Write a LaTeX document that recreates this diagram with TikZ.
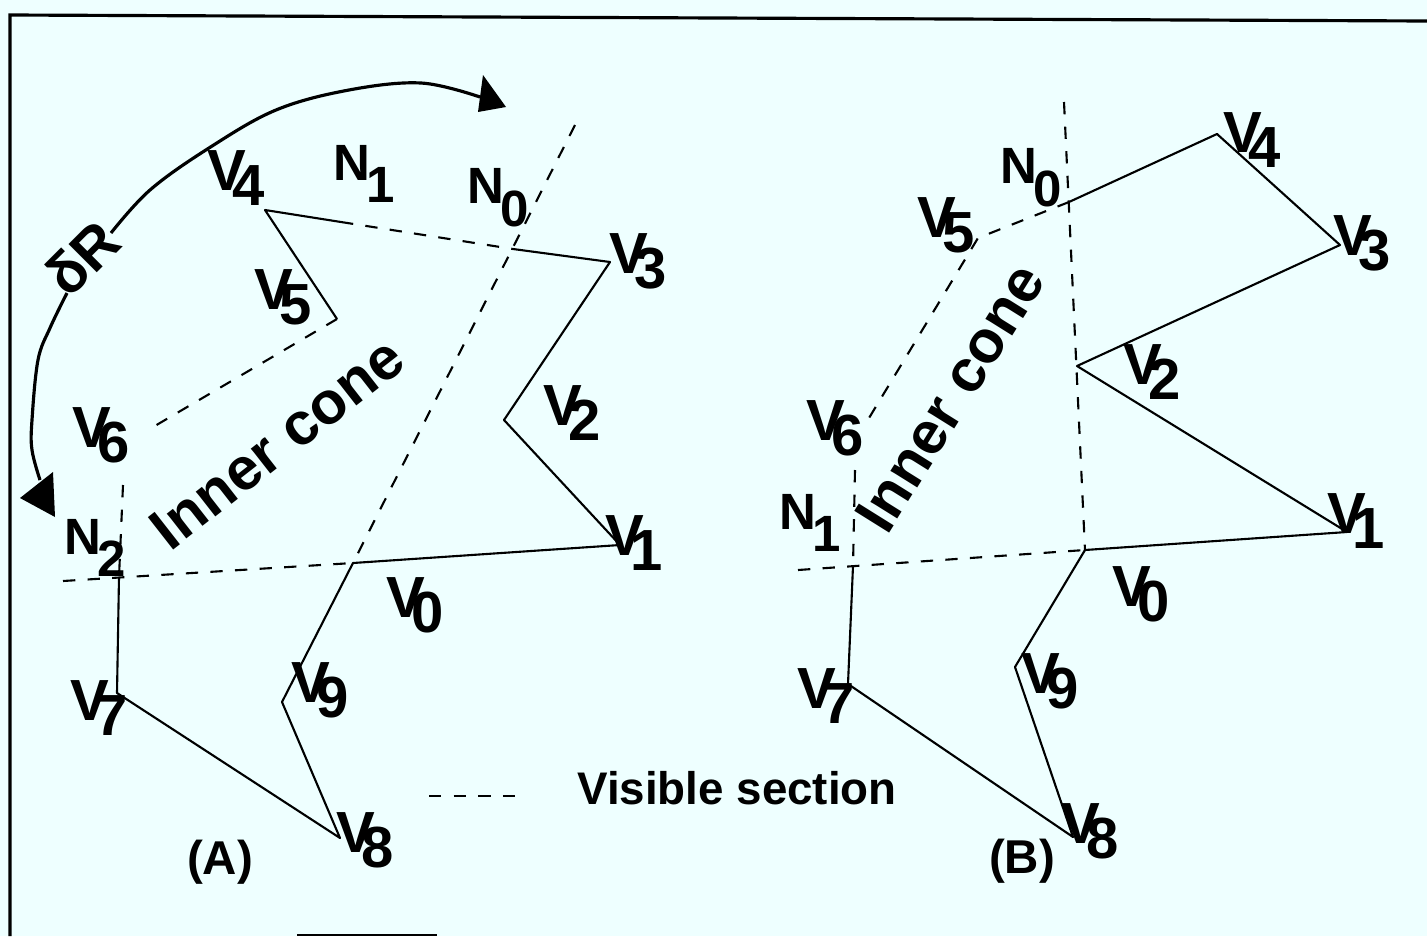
\documentclass[tikz,border=0pt]{standalone}
\usepackage{fontspec}
\setmainfont{Liberation Sans}
\definecolor{bg}{RGB}{238,255,255}
\newcommand{\vsb}[2]{#1\kern-4pt\raisebox{-4.2pt}{#2}}
\newcommand{\nsb}[2]{#1\kern-1pt\raisebox{-6.5pt}{#2}}
\begin{document}
\begin{tikzpicture}[x=0.01cm,y=-0.01cm,
  poly/.style={line width=0.6pt,line join=round},
  vis/.style={line width=0.6pt,dash pattern=on 3.5pt off 3.5pt},
  arcline/.style={line width=0.9pt},
  vlab/.style={font=\fontsize{16.5}{20}\selectfont\bfseries,inner sep=0pt},
  nlab/.style={font=\fontsize{14.5}{18}\selectfont\bfseries,inner sep=0pt},
  txt/.style={font=\fontsize{13.5}{17}\selectfont\bfseries,inner sep=0pt},
  cone/.style={font=\fontsize{17}{21}\selectfont\bfseries,inner sep=0pt}]
\useasboundingbox (0,0) rectangle (1427,936);
\fill[bg] (0,0) rectangle (1427,936);
% frame
\coordinate (f1) at (10,15);
\coordinate (f2) at (1427,21);
\coordinate (f3) at (10,936);
\draw[line width=0.9pt] (f3) -- (f1) -- (f2);
\coordinate (g1) at (297,935);
\coordinate (g2) at (437,935);
\draw[line width=0.6pt] (g1) -- (g2);

% ---------- Panel A ----------
\coordinate (a0) at (353,563);
\coordinate (a1) at (620,545);
\coordinate (a2) at (504,420);
\coordinate (a3) at (610,262);
\coordinate (an0) at (513,249);
\coordinate (a4) at (265,210);
\coordinate (a4s) at (341,222);
\coordinate (a5) at (337,319);
\coordinate (a6t) at (148,430);
\coordinate (a6b) at (123,485);
\coordinate (an2) at (119,577);
\coordinate (aleft) at (63,581);
\coordinate (a7) at (117,693);
\coordinate (a8) at (340,838);
\coordinate (a9) at (282,702);
\coordinate (atop) at (575,125);

\draw[poly] (an2) -- (a7) -- (a8) -- (a9) -- (a0) -- (a1) -- (a2) -- (a3) -- (an0);
\draw[poly] (a5) -- (a4) -- (a4s);
\draw[vis] (a4s) -- (an0);
\draw[vis] (atop) -- (a0);
\draw[vis] (aleft) -- (a0);
\draw[vis] (a5) -- (a6t);
\draw[vis] (a6b) -- (an2);

% delta R arc
\coordinate (r1) at (40,480);
\coordinate (r2) at (67,293);
\coordinate (r3) at (111,233);
\coordinate (r4) at (480,97);
\draw[arcline] plot[smooth,tension=0.6] coordinates {(r1) (32,450) (32,420) (38,360) (50,328) (r2)};
\draw[arcline] plot[smooth,tension=0.6] coordinates {(r3) (150,190) (209,148) (276,110) (349,90) (421,83) (r4)};
\coordinate (t1) at (53,472);
\coordinate (t2) at (55,517);
\coordinate (t3) at (20,498);
\fill (t1) -- (t2) -- (t3) -- cycle;
\coordinate (u1) at (483,75);
\coordinate (u2) at (478,112);
\coordinate (u3) at (506,107);
\fill (u1) -- (u2) -- (u3) -- cycle;
\node[vlab,rotate=45] (dR) at (82,258) {δR};

\node[vlab] (lA4) at (236,178) {\vsb{V}{4}};
\node[nlab] (lAN1) at (364,174) {\nsb{N}{1}};
\node[nlab] (lAN0) at (498,198) {\nsb{N}{0}};
\node[vlab] (lA3) at (638,261) {\vsb{V}{3}};
\node[vlab] (lA5) at (283,297) {\vsb{V}{5}};
\node[vlab] (lA2) at (572,413) {\vsb{V}{2}};
\node[vlab] (lA6) at (101,435) {\vsb{V}{6}};
\node[nlab] (lAN2) at (95,548) {\nsb{N}{2}};
\node[vlab] (lA1) at (634,543) {\vsb{V}{1}};
\node[vlab] (lA0) at (415,605) {\vsb{V}{0}};
\node[vlab] (lA7) at (99,708) {\vsb{V}{7}};
\node[vlab] (lA9) at (320,690) {\vsb{V}{9}};
\node[vlab] (lA8) at (365,840) {\vsb{V}{8}};
\node[txt] (lA) at (220,862) {(A)};
\node[cone,rotate=38] (coneA) at (277,443) {Inner cone};

% legend
\coordinate (lg1) at (429,796);
\coordinate (lg2) at (520,796);
\draw[vis] (lg1) -- (lg2);
\node[txt,font=\fontsize{13}{16}\selectfont\bfseries] (vis) at (737,788) {Visible section};

% ---------- Panel B ----------
\coordinate (b0) at (1085,550);
\coordinate (b1) at (1347,532);
\coordinate (b2) at (1077,366);
\coordinate (b3) at (1340,245);
\coordinate (b4) at (1217,134);
\coordinate (bn0) at (1069,202);
\coordinate (b5) at (978,238);
\coordinate (b6t) at (869,418);
\coordinate (b6b) at (855,470);
\coordinate (bn1) at (853,566);
\coordinate (bleft) at (798,570);
\coordinate (b7) at (848,684);
\coordinate (b8) at (1073,837);
\coordinate (b9) at (1015,667);
\coordinate (btop) at (1064,102);

\draw[poly] (bn1) -- (b7) -- (b8) -- (b9) -- (b0) -- (b1) -- (b2) -- (b3) -- (b4) -- (bn0);
\draw[vis] (btop) -- (b0);
\draw[vis] (bleft) -- (b0);
\draw[vis] (bn0) -- (b5) -- (b6t);
\draw[vis] (b6b) -- (bn1);

\node[nlab] (lBN0) at (1031,178) {\nsb{N}{0}};
\node[vlab] (lB4) at (1252,140) {\vsb{V}{4}};
\node[vlab] (lB5) at (946,225) {\vsb{V}{5}};
\node[vlab] (lB3) at (1362,243) {\vsb{V}{3}};
\node[vlab] (lB2) at (1152,372) {\vsb{V}{2}};
\node[vlab] (lB6) at (835,428) {\vsb{V}{6}};
\node[nlab] (lBN1) at (810,523) {\nsb{N}{1}};
\node[vlab] (lB1) at (1356,521) {\vsb{V}{1}};
\node[vlab] (lB0) at (1141,594) {\vsb{V}{0}};
\node[vlab] (lB7) at (826,696) {\vsb{V}{7}};
\node[vlab] (lB9) at (1050,681) {\vsb{V}{9}};
\node[vlab] (lB8) at (1090,831) {\vsb{V}{8}};
\node[txt] (lB) at (1022,861) {(B)};
\node[cone,rotate=58] (coneB) at (950,398) {Inner cone};
\end{tikzpicture}
\end{document}
